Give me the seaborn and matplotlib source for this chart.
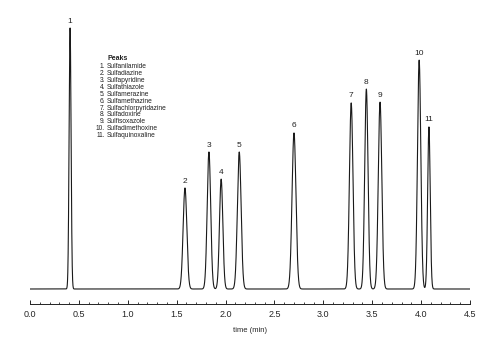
import numpy as np
import pandas as pd
import seaborn as sns
import matplotlib.pyplot as plt
from matplotlib.ticker import MultipleLocator

# peak table
peak_ids = ["1", "2", "3", "4", "5", "6", "7", "8", "9", "10", "11"]
compounds = ["Sulfanilamide", "Sulfadiazine", "Sulfapyridine", "Sulfathiazole",
             "Sulfamerazine", "Sulfamethazine", "Sulfachlorpyridazine", "Sulfadoxine",
             "Sulfisoxazole", "Sulfadimethoxine", "Sulfaquinoxaline"]
retention_min = [0.41, 1.585, 1.83, 1.955, 2.14, 2.70, 3.285, 3.44, 3.58, 3.98, 4.08]
peak_height = [100.0, 38.7, 52.5, 42.1, 52.5, 59.8, 71.3, 76.6, 71.6, 87.7, 62.1]
peak_sigma = [0.010, 0.019, 0.018, 0.017, 0.019, 0.020, 0.018, 0.017, 0.018, 0.017, 0.013]

t = np.linspace(0, 4.5, 9001)
signal = np.zeros_like(t)
for rt, h, s in zip(retention_min, peak_height, peak_sigma):
    signal += h * np.exp(-0.5 * ((t - rt) / s) ** 2)
df = pd.DataFrame({"time": t, "signal": signal})

sns.set_style("white")
plt.rcParams["font.family"] = ["Liberation Sans", "DejaVu Sans"]

fig = plt.figure(figsize=(5, 3.52), dpi=100)
ax = fig.add_axes([0.06, 1 - 304 / 352, 0.88, 294 / 352])

sns.lineplot(data=df, x="time", y="signal", ax=ax, color="#1a1a1a", linewidth=0.8)

for pid, rt, h in zip(peak_ids, retention_min, peak_height):
    ax.annotate(pid, (rt, h), xytext=(0, 2.5), textcoords="offset points",
                ha="center", va="bottom", fontsize=6, color="#222222")

# peak legend block
fig.text(0.214, 1 - 59 / 352, "Peaks", fontsize=5, fontweight="bold",
         ha="left", va="center", color="#222222")
for i, (pid, name) in enumerate(zip(peak_ids, compounds)):
    y = 1 - (66.7 + i * 6.9) / 352
    fig.text(0.210, y, pid + ".", fontsize=4.8, ha="right", va="center", color="#222222")
    fig.text(0.214, y, name, fontsize=4.8, ha="left", va="center", color="#222222")

ax.set_xlim(0, 4.5)
ax.set_ylim(-5.75, 106.9)
ax.set_xticks(np.arange(0, 4.51, 0.5))
ax.xaxis.set_minor_locator(MultipleLocator(0.1))
ax.set_xticklabels([f"{v:.1f}" for v in np.arange(0, 4.51, 0.5)])
ax.set_yticks([])
ax.set_ylabel("")
ax.set_xlabel("time (min)", fontsize=5.5, labelpad=6)
ax.tick_params(axis="x", which="major", direction="in", length=3, width=0.7,
               labelsize=6.5, pad=4, bottom=True)
ax.tick_params(axis="x", which="minor", direction="in", length=1.8, width=0.6, bottom=True)
for side in ["left", "top", "right"]:
    ax.spines[side].set_visible(False)
ax.spines["bottom"].set_linewidth(0.7)
ax.spines["bottom"].set_color("#222222")
ax.patch.set_alpha(0)

fig.savefig("out.png", dpi=100)
